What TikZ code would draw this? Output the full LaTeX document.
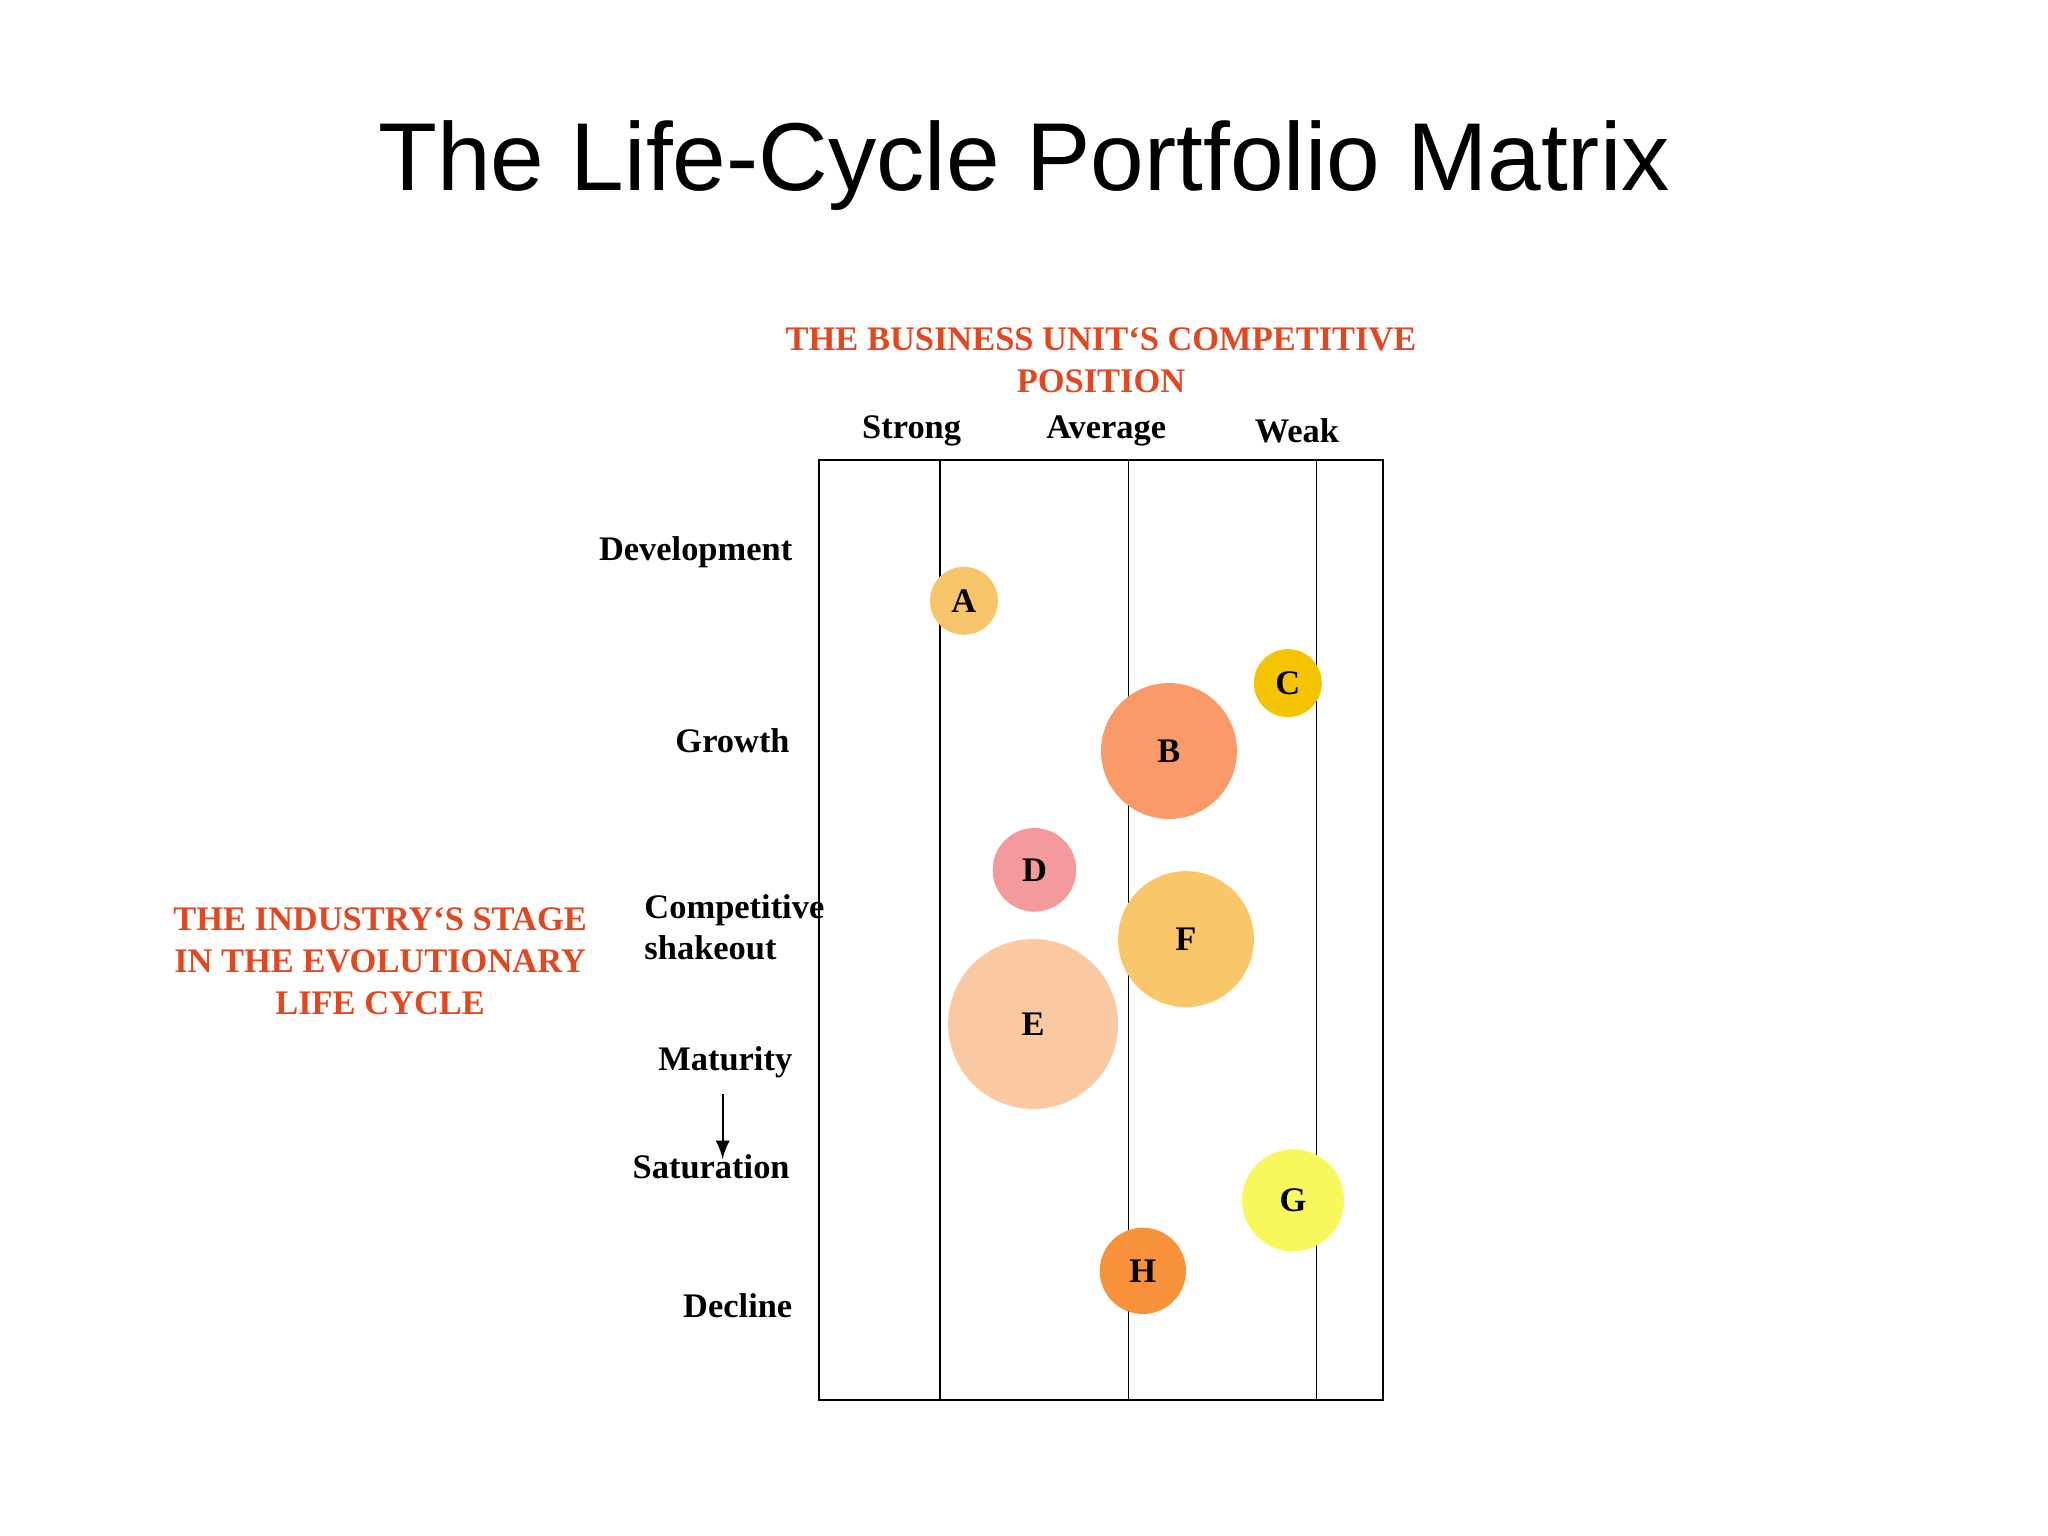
\documentclass[tikz,border=0pt]{standalone}
\usepackage{fontspec}
\setmainfont{Liberation Serif}
\newfontfamily\titlefont{Liberation Sans}
\definecolor{redt}{HTML}{E4461E}
\begin{document}
\begin{tikzpicture}[x=0.01cm,y=-0.01cm,
 lab/.style={font=\bfseries\fontsize{7.5}{9}\selectfont},
 red/.style={font=\bfseries\fontsize{7.5}{9.2}\selectfont,text=redt,align=center},
 bub/.style={circle,inner sep=0pt,minimum size=#1,font=\bfseries\fontsize{7.5}{9}\selectfont}]
\path[use as bounding box] (0,0) rectangle (1568,1176);
\node[font=\titlefont\fontsize{21}{25}\selectfont] (title) at (784,127) {The Life-Cycle Portfolio Matrix};
\node[red] (top) at (843,276) {THE BUSINESS UNIT‘S COMPETITIVE\\POSITION};
\node[red] (left) at (291,736) {THE INDUSTRY‘S STAGE\\IN THE EVOLUTIONARY\\LIFE CYCLE};
\node[lab] (s) at (698,330) {Strong};
\node[lab] (a) at (847,330) {Average};
\node[lab] (w) at (993,330) {Weak};
\node[lab,anchor=east] (dev) at (619,423) {Development};
\node[lab,anchor=east] (gro) at (617,567) {Growth};
\node[lab,anchor=west,align=left] (cs) at (481,710) {Competitive\\shakeout};
\node[lab,anchor=east] (mat) at (619,813) {Maturity};
\node[lab,anchor=east] (sat) at (617,893) {Saturation};
\node[lab,anchor=east] (dec) at (619,1000) {Decline};
\draw[-latex,thin] (mat.south)++(-2,0) coordinate (m1) -- ++(0,50) coordinate (m2);
\draw[thin] (627,352) grid[xstep=144,ystep=144] (1059,1072);
\draw[thin] (627,352) rectangle (1059,1072);
\def\B#1#2#3#4#5{\node[bub=#4*0.02cm,fill={[HTML]#5}] (n#1) at (#2,#3) {#1};}
\definecolor{cA}{HTML}{F8C46A}
\node[bub=0.52cm,fill=cA] (A) at (738,460) {A};
\definecolor{cC}{HTML}{F5C400}
\node[bub=0.52cm,fill=cC] (C) at (986,523) {C};
\definecolor{cB}{HTML}{F99A68}
\node[bub=1.04cm,fill=cB] (Bn) at (895,575) {B};
\definecolor{cD}{HTML}{F49A9C}
\node[bub=0.64cm,fill=cD] (D) at (792,666) {D};
\definecolor{cF}{HTML}{F9C76A}
\node[bub=1.04cm,fill=cF] (F) at (908,719) {F};
\definecolor{cE}{HTML}{FAC9A2}
\node[bub=1.30cm,fill=cE] (E) at (791,784) {E};
\definecolor{cG}{HTML}{F8F85C}
\node[bub=0.78cm,fill=cG] (G) at (990,919) {G};
\definecolor{cH}{HTML}{F7923A}
\node[bub=0.66cm,fill=cH] (H) at (875,973) {H};
\end{tikzpicture}
\end{document}
